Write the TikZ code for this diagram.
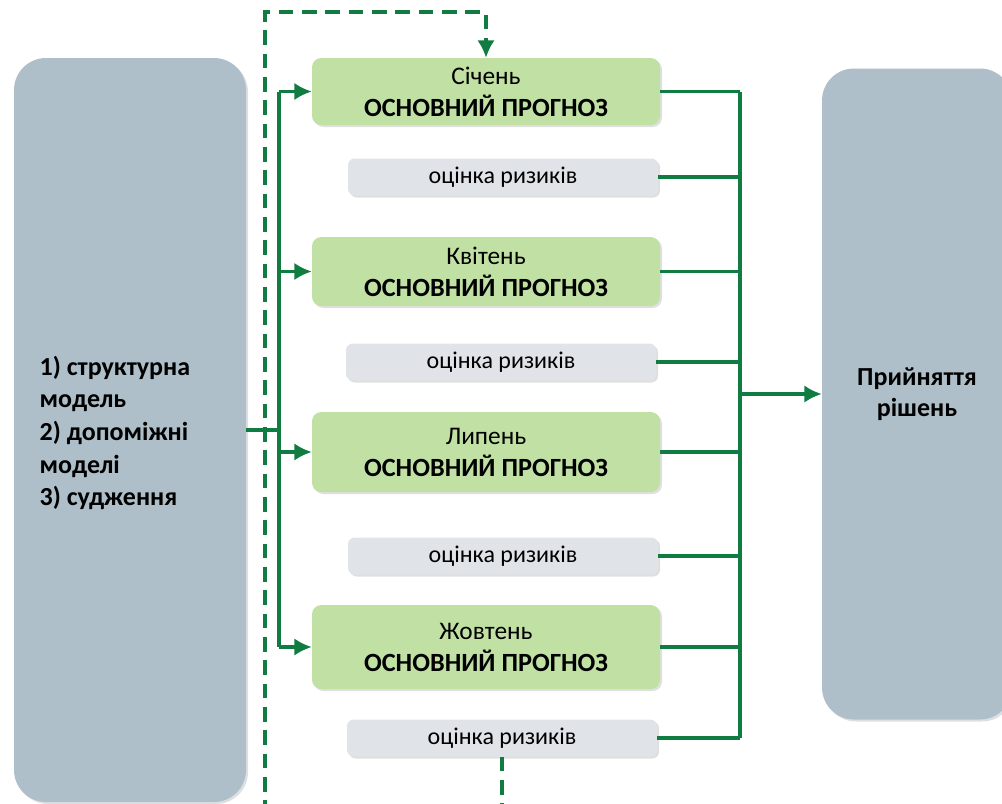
\documentclass[tikz,border=0pt]{standalone}
\usepackage{fontspec}
\setmainfont{Carlito}
\usetikzlibrary{shadows,arrows.meta}
\definecolor{gline}{RGB}{16,124,66}
\definecolor{gfill}{RGB}{192,224,164}
\definecolor{grfill}{RGB}{224,228,232}
\definecolor{bfill}{RGB}{174,191,201}
\begin{document}
\begin{tikzpicture}[x=0.75pt,y=-0.75pt,
  shadowed/.style={drop shadow={opacity=0.25,shadow xshift=1.5pt,shadow yshift=-1.5pt}},
  bigbox/.style={fill=bfill,rounded corners=24pt,shadowed,inner sep=0pt},
  forecast/.style={fill=gfill,rounded corners=7pt,minimum width=261pt,shadowed,align=center,
    font=\fontsize{19}{24}\selectfont},
  risk/.style={fill=grfill,rounded corners=5pt,minimum width=232.5pt,minimum height=27.75pt,
    shadowed,font=\fontsize{18}{20}\selectfont},
  conn/.style={draw=gline,line width=2.3pt},
  arr/.style={conn,-{Latex[length=13pt,width=13pt]}},
  dashline/.style={draw=gline,line width=2.3pt,dash pattern=on 11pt off 6.5pt}
]
\useasboundingbox (0,0) rectangle (1002,803);
\clip (0,0) rectangle (1002,803);

% big side boxes
\node[bigbox,minimum width=174pt,minimum height=558pt] (L) at (130,430) {};
\node[font=\fontsize{19.5}{24.5}\selectfont\bfseries,align=left,anchor=north west] (Lt) at (35,351)
  {1) структурна\\модель\\2) допоміжні\\моделі\\3) судження};
\node[bigbox,minimum width=142.5pt,minimum height=488.25pt,align=center,
  font=\fontsize{19.5}{23}\selectfont\bfseries] (R) at (917,394) {Прийняття\\рішень};

% forecast boxes
\newcommand\fc[1]{#1\\{\fontsize{19.7}{24}\selectfont\bfseries ОСНОВНИЙ ПРОГНОЗ}}
\node[forecast,minimum height=50.25pt] (f1) at (486,91.5) {\fc{Січень}};
\node[forecast,minimum height=51.75pt] (f2) at (486,271.5) {\fc{Квітень}};
\node[forecast,minimum height=60pt] (f3) at (486,452) {\fc{Липень}};
\node[forecast,minimum height=63pt] (f4) at (486,647) {\fc{Жовтень}};

% risk boxes
\node[risk] (r1) at (503,177) {оцінка ризиків};
\node[risk] (r2) at (501,362) {оцінка ризиків};
\node[risk] (r3) at (503,556) {оцінка ризиків};
\node[risk] (r4) at (502,738) {оцінка ризиків};

% buses
\coordinate (lbus) at (279,0);
\coordinate (rbus) at (740,0);
\coordinate (top) at (0,12);
\coordinate (dl) at (265,815);
\coordinate (dr) at (502,815);

\draw[conn] (L.east) -- (L.east -| lbus);
\draw[conn] (f1.west -| lbus) -- (f4.west -| lbus);
\foreach \n in {f1,f2,f3,f4} \draw[arr] (\n.west -| lbus) -- (\n.west);

\draw[conn] (f1.east -| rbus) -- (r4.east -| rbus);
\foreach \n in {f1,r1,f2,r2,f3,r3,f4,r4} \draw[conn] (\n.east) -- (\n.east -| rbus);
\draw[arr] (R.west -| rbus) -- (R.west);

% dashed feedback
\draw[dashline] (r4.south) -- (r4.south |- dr);
\draw[dashline,-{Latex[length=13pt,width=13pt]}] (dl) |- (f1.north |- top) -- (f1.north);
\end{tikzpicture}
\end{document}
